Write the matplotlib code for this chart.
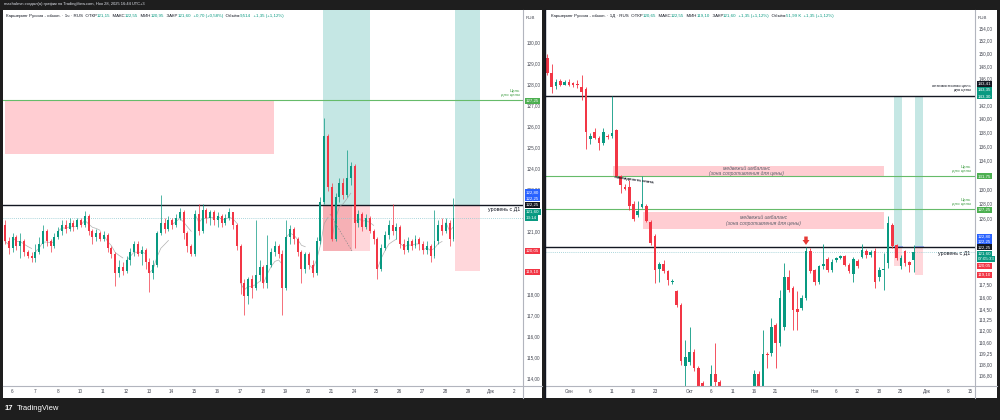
import numpy as np
import matplotlib
matplotlib.use("Agg")
import matplotlib.pyplot as plt
from matplotlib.patches import Rectangle
import matplotlib.transforms as mtransforms

plt.rcParams['font.family'] = ['Liberation Sans', 'DejaVu Sans']

UP, DN = '#089981', '#f23645'
GREEN_LINE = '#66bb6a'
TEAL_BAND = '#b2dfdb'
PINK = '#ffcdd2'

# ---------------- left chart: 1h candles ----------------
h1_open = [121.3, 120.5, 120.2, 120.7, 120.3, 120.5, 120.0, 119.8, 119.7, 120.0,
           120.4, 121.0, 120.5, 120.3, 120.7, 121.0, 121.3, 121.1, 121.4, 121.2,
           121.5, 121.3, 121.7, 121.0, 120.7, 120.9, 120.6, 120.8, 120.2, 119.9,
           119.0, 119.3, 119.1, 119.6, 120.0, 120.4, 119.9, 120.1, 119.5, 119.0,
           119.4, 120.9, 121.4, 121.1, 121.5, 121.3, 121.6, 121.9, 120.9, 120.3,
           119.9, 121.8, 121.0, 122.0, 121.6, 121.9, 121.5, 121.7, 121.4, 121.6,
           121.9, 121.3, 120.3, 118.5, 117.9, 118.7, 118.3, 118.9, 119.3, 118.5,
           119.4, 120.0, 120.3, 119.9, 118.3, 120.7, 121.1, 120.6, 120.0, 119.2,
           119.9, 119.4, 119.0, 120.5, 122.4, 125.5, 123.1, 120.6, 122.6, 123.3,
           122.7, 123.5, 124.1, 121.4, 121.8, 121.2, 121.6, 121.0, 120.6, 119.2,
           120.2, 120.8, 121.3, 121.0, 121.2, 120.4, 120.1, 120.5, 120.3, 120.6,
           120.4, 120.1, 120.3, 119.8, 120.5, 121.3, 121.0, 121.4, 120.6]
h1_high = [121.5, 120.7, 120.9, 120.8, 120.9, 120.6, 120.1, 120.0, 120.4, 120.7,
           121.3, 121.1, 120.6, 120.9, 121.2, 121.5, 121.5, 121.6, 121.5, 121.6,
           121.6, 121.95, 121.8, 121.1, 121.1, 121.0, 121.0, 120.9, 120.3, 120.0,
           119.6, 119.5, 119.8, 120.2, 120.5, 120.5, 120.3, 120.2, 119.7, 119.6,
           121.0, 122.7, 121.6, 121.7, 121.6, 121.8, 122.1, 122.0, 121.0, 120.4,
           122.0, 122.3, 122.3, 122.1, 122.0, 122.0, 121.9, 121.8, 121.8, 122.1,
           121.9, 121.4, 120.4, 118.7, 118.8, 118.9, 121.5, 119.6, 119.4, 120.8,
           120.2, 120.5, 120.4, 120.1, 121.5, 121.3, 121.2, 120.7, 120.1, 120.0,
           120.0, 119.6, 120.7, 122.6, 126.4, 125.6, 123.3, 122.8, 123.5, 123.5,
           124.85, 124.3, 124.2, 122.0, 121.9, 121.8, 121.7, 121.1, 120.7, 120.4,
           121.0, 121.5, 122.3, 121.4, 121.3, 120.6, 120.7, 120.6, 120.8, 120.7,
           120.5, 120.5, 120.4, 122.0, 121.5, 121.6, 121.6, 121.5, 122.55]
h1_low = [120.4, 119.9, 120.0, 120.1, 119.7, 119.8, 119.7, 119.5, 119.5, 119.9,
          120.2, 120.3, 120.0, 120.2, 120.6, 120.8, 120.9, 121.0, 121.0, 121.1,
          121.2, 121.2, 120.8, 120.4, 120.5, 120.5, 120.5, 120.0, 119.7, 118.4,
          118.8, 118.9, 119.0, 119.4, 119.8, 119.8, 119.4, 119.2, 118.1, 118.7,
          119.3, 120.8, 120.9, 121.0, 121.1, 121.2, 121.5, 120.6, 120.0, 119.8,
          119.8, 120.8, 120.9, 121.4, 121.3, 121.3, 121.2, 121.2, 121.3, 121.5,
          121.1, 120.1, 118.0, 117.0, 117.5, 117.8, 118.2, 118.6, 118.3, 118.3,
          119.3, 119.8, 119.7, 117.0, 118.2, 120.4, 120.4, 119.8, 118.5, 119.0,
          119.2, 118.8, 118.9, 120.4, 122.3, 122.9, 120.5, 120.5, 122.4, 122.5,
          122.6, 123.2, 120.2, 121.2, 121.0, 121.1, 120.9, 120.4, 118.7, 119.1,
          120.1, 120.6, 120.8, 120.6, 120.2, 119.9, 120.0, 120.1, 120.2, 120.1,
          119.9, 119.9, 119.5, 119.7, 120.4, 120.8, 120.9, 120.3, 120.5]
h1_close = [120.5, 120.2, 120.7, 120.3, 120.5, 120.0, 119.8, 119.7, 120.0, 120.4,
            121.0, 120.5, 120.3, 120.7, 121.0, 121.3, 121.1, 121.4, 121.2, 121.5,
            121.3, 121.7, 121.0, 120.7, 120.9, 120.6, 120.8, 120.2, 119.9, 119.0,
            119.3, 119.1, 119.6, 120.0, 120.4, 119.9, 120.1, 119.5, 119.0, 119.4,
            120.9, 121.4, 121.1, 121.5, 121.3, 121.6, 121.9, 120.9, 120.3, 119.9,
            121.8, 121.0, 122.0, 121.6, 121.9, 121.5, 121.7, 121.4, 121.6, 121.9,
            121.3, 120.3, 118.5, 117.9, 118.7, 118.3, 118.9, 119.3, 118.5, 119.4,
            120.0, 120.3, 119.9, 118.3, 120.7, 121.1, 120.6, 120.0, 119.2, 119.9,
            119.4, 119.0, 120.5, 122.4, 125.5, 123.1, 120.6, 122.6, 123.3, 122.7,
            123.5, 124.1, 121.4, 121.8, 121.2, 121.6, 121.0, 120.6, 119.2, 120.2,
            120.8, 121.3, 121.0, 121.2, 120.4, 120.1, 120.5, 120.3, 120.6, 120.4,
            120.1, 120.3, 119.8, 120.5, 121.3, 121.0, 121.4, 120.6, 121.6]
h1_day_labels = ["6", "7", "8", "10", "11", "12", "13", "14", "15", "16", "17", "18",
                 "19", "20", "21", "24", "25", "26", "27", "28", "29", "Дек", "2"]
h1_candles_per_day = 6
h1_first_day_at = 1.84
h1_price_ticks = [130, 129, 128, 127, 126, 125, 124, 123, 121, 118, 117, 116, 115, 114]

# ---------------- right chart: 1D candles ----------------
d1_open = [149.3, 146.9, 144.9, 145.6, 145.1, 145.5, 145.3, 145.2, 144.8, 144.5,
           137.0, 138.0, 137.2, 136.4, 137.5, 137.4, 138.3, 131.8, 130.3, 130.3,
           128.0, 126.5, 127.6, 127.7, 125.6, 123.7, 119.5, 120.1, 119.2, 117.8,
           116.7, 115.0, 107.9, 108.35, 109.5, 107.6, 105.9, 105.0, 105.0, 107.0,
           106.0, 105.0, 104.2, 103.8, 104.4, 103.9, 104.6, 104.2, 104.8, 107.0,
           105.5, 109.2, 109.3, 112.6, 110.5, 112.4, 118.5, 117.1, 114.5, 114.7,
           115.9, 121.7, 119.3, 117.9, 119.8, 120.75, 119.4, 120.6, 120.9, 121.1,
           120.0, 118.8, 120.5, 121.0, 121.7, 121.25, 121.7, 118.5, 119.4, 120.2,
           125.2, 122.5, 119.8, 121.7, 120.3, 120.65]
d1_high = [149.8, 148.3, 146.0, 146.0, 145.8, 146.0, 145.5, 145.8, 146.6, 144.7,
           137.9, 138.6, 137.5, 138.6, 137.8, 143.4, 138.5, 131.9, 130.6, 131.2,
           128.3, 128.4, 131.8, 128.0, 125.8, 124.0, 120.3, 120.6, 119.3, 118.2,
           116.9, 115.2, 110.9, 112.4, 109.8, 107.9, 106.2, 105.4, 108.0, 110.5,
           106.3, 105.5, 104.8, 105.2, 104.9, 105.3, 105.0, 105.4, 107.4, 107.3,
           112.0, 109.4, 113.4, 112.9, 116.8, 120.2, 119.3, 117.3, 116.7, 116.2,
           122.3, 122.2, 119.5, 120.0, 122.6, 121.0, 120.7, 121.0, 121.3, 121.3,
           120.2, 121.0, 120.7, 122.6, 122.0, 121.9, 122.2, 119.7, 121.5, 126.3,
           125.4, 122.7, 121.3, 121.9, 120.5, 122.55]
d1_low = [146.6, 143.85, 144.5, 144.9, 145.0, 144.9, 144.8, 144.6, 142.8, 135.6,
          136.3, 137.0, 135.5, 136.2, 137.0, 137.2, 131.6, 129.5, 129.8, 127.15,
          125.7, 126.2, 127.4, 125.5, 122.5, 117.7, 117.9, 119.0, 117.5, 117.6,
          114.8, 108.0, 105.3, 108.0, 107.3, 104.8, 104.5, 104.0, 104.6, 105.2,
          104.3, 103.6, 103.2, 103.4, 103.5, 103.7, 103.8, 103.9, 104.5, 105.0,
          105.2, 107.6, 109.0, 107.6, 110.2, 112.0, 116.6, 112.0, 112.0, 114.4,
          115.6, 118.9, 117.5, 117.6, 119.5, 119.1, 119.1, 120.3, 120.7, 119.8,
          118.9, 117.9, 119.6, 120.8, 120.9, 121.0, 117.1, 118.0, 116.8, 119.6,
          122.2, 120.6, 119.5, 119.9, 119.1, 119.1]
d1_close = [146.9, 144.8, 145.5, 145.1, 145.5, 145.1, 145.0, 145.0, 144.0, 138.1,
            137.4, 137.2, 136.4, 138.1, 137.3, 137.9, 131.8, 130.5, 130.0, 127.7,
            125.95, 127.0, 127.9, 125.7, 122.8, 119.4, 120.1, 119.2, 118.1, 118.0,
            115.0, 108.4, 108.9, 109.5, 107.6, 105.2, 105.0, 104.6, 107.0, 106.0,
            105.0, 104.2, 103.8, 104.4, 103.9, 104.6, 104.2, 104.8, 107.0, 105.5,
            109.2, 109.1, 112.4, 110.5, 115.9, 118.5, 116.9, 114.4, 114.2, 115.9,
            121.7, 119.2, 117.9, 119.8, 120.1, 119.4, 120.4, 120.8, 121.1, 120.0,
            119.2, 120.7, 119.9, 121.9, 121.2, 121.6, 117.9, 119.4, 119.5, 125.4,
            122.45, 120.9, 120.85, 120.2, 120.0, 121.6]
d1_tick_pos = [5, 10, 15, 20, 25, 33, 38, 43, 48, 53, 62, 67, 72, 77, 82, 88, 93, 98]
d1_tick_labels = ["Сен", "6", "11", "16", "23", "Окт", "6", "11", "16", "21",
                  "Ноя", "6", "12", "18", "25", "Дек", "8", "15"]
d1_price_ticks = [154, 152, 150, 148, 146, 142, 140, 138, 136, 134, 130, 128, 126,
                  117.5, 116, 114.5, 113.25, 112, 110.6, 109.25, 108, 106.8]

# ---------------- levels & zones ----------------
target_level = 127.25
d1_level = 122.25
last_price = 121.60
optimistic_target = 143.41
target_1 = 131.75
target_2 = 127.25
signal_candle = 60

h1_supply_zone = (0.0, 70.8, 124.65, 127.25)        # x0, x1, low, high
h1_band_1 = (83.7, 96.1, 91.3, 120.05)              # x0, x1, split, stop
h1_band_2 = (118.4, 125.0, 119.10)
d1_imbalance_1 = (15.2, 78.1, 131.8, 133.2)
d1_imbalance_2 = (22.1, 78.1, 124.6, 126.9)
d1_band_1 = (80.3, 82.2, 119.8)
d1_band_2 = (85.2, 87.2, 118.7)

W, H = 1000, 420
fig = plt.figure(figsize=(10, 4.2), dpi=100, facecolor='#1e1e1e')


def fx(px):
    return px / W


def fy(py):
    return 1 - py / H


# white panels
for x0, x1 in [(3, 542), (546, 997)]:
    fig.add_artist(Rectangle((fx(x0), fy(398)), fx(x1 - x0), (398 - 10) / H,
                             transform=fig.transFigure, fc='white', ec='none', zorder=0))
# separators (date axis / price axis)
for x0, x1, xa in [(3, 542, 523), (546, 997, 975)]:
    fig.add_artist(plt.Line2D([fx(x0), fx(x1)], [fy(386), fy(386)], transform=fig.transFigure,
                              color='#b2b5be', lw=0.8, zorder=5))
    fig.add_artist(plt.Line2D([fx(xa), fx(xa)], [fy(10), fy(398)], transform=fig.transFigure,
                              color='#b2b5be', lw=0.8, zorder=5))
fig.add_artist(plt.Line2D([fx(545), fx(545)], [fy(10), fy(398)], transform=fig.transFigure,
                          color='#131722', lw=1.0, zorder=5))

axL = fig.add_axes([fx(3), fy(386), fx(520), 376 / H])
axR = fig.add_axes([fx(546), fy(386), fx(429), 376 / H])


def draw_candles(ax, o, h, l, c, width, lw, min_h):
    o, h, l, c = map(np.asarray, (o, h, l, c))
    x = np.arange(len(o))
    col = np.where(c >= o, UP, DN)
    ax.vlines(x, l, h, colors=col, lw=lw, zorder=4)
    ax.bar(x, np.maximum(np.abs(c - o), min_h), width=width, bottom=np.minimum(o, c),
           color=col, linewidth=0, zorder=5)


def style_axis(ax):
    for s in ax.spines.values():
        s.set_visible(False)
    ax.set_facecolor('white')
    ax.yaxis.tick_right()
    ax.tick_params(axis='y', length=0, pad=3, labelsize=3.3, labelcolor='#434651')
    ax.tick_params(axis='x', length=0, pad=2.5, labelsize=3.3, labelcolor='#434651')
    ax.minorticks_off()


def fmt(v):
    return f"{v:.2f}".replace('.', ',')


def price_label(ax, price, text, bg, dy=0.0):
    tr = mtransforms.blended_transform_factory(ax.transAxes, ax.transData)
    tr = mtransforms.offset_copy(tr, fig=fig, x=0, y=dy, units='dots')
    ax.text(1.006, price, text, transform=tr, ha='left', va='center', fontsize=3.2,
            color='white', clip_on=False, zorder=10,
            bbox=dict(boxstyle='square,pad=0.2', fc=bg, ec='none'))


# ======================= LEFT CHART =======================
ax = axL
style_axis(ax)
n1 = len(h1_close)
ax.set_xlim(-0.53, 136.3)
ax.set_ylim(113.62, 131.52)
top = 131.52

x0, x1, lo, hi = h1_supply_zone
ax.add_patch(Rectangle((x0, lo), x1 - x0, hi - lo, fc=PINK, ec='none', zorder=1))
bx0, bx1, bsplit, bstop = h1_band_1
ax.add_patch(Rectangle((bx0, d1_level), bx1 - bx0, top - d1_level, fc=TEAL_BAND, alpha=0.75, ec='none', zorder=1))
ax.add_patch(Rectangle((bx0, bstop), bsplit - bx0, d1_level - bstop, fc='#f5a3a8', alpha=0.85, ec='none', zorder=1))
ax.add_patch(Rectangle((bsplit, bstop), bx1 - bsplit, d1_level - bstop, fc=PINK, alpha=0.8, ec='none', zorder=1))
ax.plot([bx0 + 1.8, bsplit], [121.8, bstop], color='#8a8a8a', lw=0.5, ls=(0, (2, 2)), zorder=6)
cx0, cx1, cstop = h1_band_2
ax.add_patch(Rectangle((cx0, d1_level), cx1 - cx0, top - d1_level, fc=TEAL_BAND, alpha=0.75, ec='none', zorder=1))
ax.add_patch(Rectangle((cx0, cstop), cx1 - cx0, d1_level - cstop, fc=PINK, alpha=0.8, ec='none', zorder=1))

ax.axhline(target_level, color=GREEN_LINE, lw=0.8, zorder=2)
ax.axhline(d1_level, color='#131722', lw=1.0, zorder=2)
ax.axhline(last_price, color='#8fc9d0', lw=0.6, ls=(0, (1, 1.5)), zorder=2)

# intraday average line
closes = np.asarray(h1_close)
day_starts = np.ceil(h1_first_day_at + h1_candles_per_day * np.arange(-1, len(h1_day_labels))).astype(int)
for a, b in zip(day_starts[:-1], day_starts[1:]):
    a, b = max(a, 0), min(b, n1)
    if b - a >= 2:
        seg = closes[a:b]
        avg = np.cumsum(seg) / np.arange(1, len(seg) + 1)
        ax.plot(np.arange(a, b), avg, color='#9e9e9e', lw=0.5, alpha=0.8, zorder=3)

draw_candles(ax, h1_open, h1_high, h1_low, h1_close, width=0.5, lw=0.5, min_h=0.04)

ax.set_yticks(h1_price_ticks)
ax.set_yticklabels([fmt(v) for v in h1_price_ticks])
day_pos = [h1_first_day_at + h1_candles_per_day * j for j in range(len(h1_day_labels))]
ax.set_xticks(day_pos)
ax.set_xticklabels(h1_day_labels)

blendL = mtransforms.blended_transform_factory(ax.transAxes, ax.transData)
ax.text(0.994, target_level + 0.12, "Цель\nдля цены", transform=blendL,
        ha='right', va='bottom', fontsize=3.2, color='#43a047', multialignment='right', linespacing=1.1, zorder=8)
ax.text(0.994, d1_level - 0.12, "уровень с Д1", transform=blendL,
        ha='right', va='top', fontsize=3.8, color='#131722', zorder=8)

price_label(ax, target_level, fmt(target_level), '#4caf50', dy=-1)
price_label(ax, 122.80, "122,80", '#2962ff', dy=1)
price_label(ax, d1_level, fmt(d1_level), '#2962ff', dy=6.5)
price_label(ax, d1_level, fmt(d1_level), '#131722', dy=0)
price_label(ax, last_price, fmt(last_price), UP, dy=6.5)
price_label(ax, last_price, "13:14", UP, dy=0.5)
price_label(ax, 120.05, "120,05", DN)
price_label(ax, 119.10, "119,10", DN, dy=-1)
ax.text(1.006, 0.985, "RUB", transform=ax.transAxes, fontsize=3.2, color='#434651', ha='left', va='top')

# ======================= RIGHT CHART =======================
ax = axR
style_axis(ax)
ax.set_yscale('log')
ax.set_xlim(-0.3, 99.2)
ax.set_ylim(105.6, 156.98)

for z in (d1_imbalance_1, d1_imbalance_2):
    zx0, zx1, zlo, zhi = z
    ax.add_patch(Rectangle((zx0, zlo), zx1 - zx0, zhi - zlo, fc=PINK, ec='none', zorder=1))
for bx0, bx1, bstop in (d1_band_1, d1_band_2):
    ax.add_patch(Rectangle((bx0, d1_level), bx1 - bx0, optimistic_target - d1_level, fc=TEAL_BAND, alpha=0.75, ec='none', zorder=1))
    ax.add_patch(Rectangle((bx0, bstop), bx1 - bx0, d1_level - bstop, fc=PINK, alpha=0.8, ec='none', zorder=1))
    ax.plot([bx0, bx1], [d1_level * 1.001] * 2, color='#90a4f7', lw=0.6, zorder=2)

ax.axhline(optimistic_target, color='#131722', lw=1.0, zorder=2)
ax.axhline(target_1, color=GREEN_LINE, lw=0.8, zorder=2)
ax.axhline(target_2, color=GREEN_LINE, lw=0.8, zorder=2)
ax.axhline(d1_level, color='#131722', lw=1.0, zorder=2)
ax.axhline(last_price, color='#8fc9d0', lw=0.6, ls=(0, (1, 1.5)), zorder=2)

draw_candles(ax, d1_open, d1_high, d1_low, d1_close, width=0.62, lw=0.6, min_h=0.1)

ax.annotate('', xy=(signal_candle, d1_high[signal_candle] * 1.002), xytext=(0, 6),
            textcoords='offset points',
            arrowprops=dict(arrowstyle='simple,head_width=1.0,head_length=0.7,tail_width=0.5',
                            fc='#e53935', ec='none', mutation_scale=5, shrinkA=0, shrinkB=0), zorder=9)

ax.set_yticks(d1_price_ticks)
ax.set_yticklabels([fmt(v) for v in d1_price_ticks])
ax.set_xticks(d1_tick_pos)
ax.set_xticklabels(d1_tick_labels)
ax.minorticks_off()

blend = mtransforms.blended_transform_factory(ax.transAxes, ax.transData)
ax.text(0.99, optimistic_target * 1.004, "оптимистичная цель\nдля цены", transform=blend,
        ha='right', va='bottom', fontsize=3.0, color='#131722', multialignment='right', linespacing=1.1, zorder=8)
for lvl in (target_1, target_2):
    ax.text(0.99, lvl * 1.003, "Цель\nдля цены", transform=blend, ha='right', va='bottom',
            fontsize=3.2, color='#43a047', multialignment='right', linespacing=1.1, zorder=8)
ax.text(0.99, d1_level * 0.996, "уровень с Д1", transform=blend, ha='right', va='top',
        fontsize=3.8, color='#131722', zorder=8)

imb_text = "медвежий имбаланс\n(зона сопротивления для цены)"
for zx0, zx1, zlo, zhi in (d1_imbalance_1, d1_imbalance_2):
    ax.text(zx0 + (zx1 - zx0) * 0.5 if zx0 > 20 else 46.3, np.sqrt(zlo * zhi), imb_text,
            ha='center', va='center', fontsize=3.6, style='italic', color='#5d606b',
            linespacing=1.05, zorder=8)
ax.text(d1_imbalance_1[0] + 0.3, target_1 * 1.001, "ликвидность снята", rotation=-8,
        ha='left', va='top', fontsize=3.0, color='#131722', weight='bold', zorder=8,
        rotation_mode='anchor')

price_label(ax, optimistic_target, fmt(optimistic_target), '#131722', dy=11.8)
price_label(ax, optimistic_target, "143,35", UP, dy=5.8)
price_label(ax, optimistic_target, "143,30", UP, dy=-0.3)
price_label(ax, target_1, fmt(target_1), '#4caf50')
price_label(ax, target_2, fmt(target_2), '#4caf50', dy=-0.7)
price_label(ax, 122.80, "122,80", '#2962ff', dy=6.3)
price_label(ax, d1_level, fmt(d1_level), '#2962ff', dy=5.6)
price_label(ax, d1_level, fmt(d1_level), '#131722')
price_label(ax, last_price, fmt(last_price), UP, dy=-1.7)
price_label(ax, last_price, "07:05:33", UP, dy=-6.9)
price_label(ax, 120.05, "120,05", DN, dy=-1.5)
price_label(ax, 119.10, "119,10", DN, dy=-3.1)
ax.text(1.006, 0.985, "RUB", transform=ax.transAxes, fontsize=3.2, color='#434651', ha='left', va='top')

# ======================= headers & frame texts =======================
fig.text(fx(4), fy(4.5), "maxhalevn создал(а) график на TradingView.com, Ноя 28, 2025 16:44 UTC+3",
         fontsize=2.9, color='#e0e3eb', ha='left', va='center')

renderer = fig.canvas.get_renderer()
DK = '#131722'


def chain(x_px, parts, size=3.2):
    x = fx(x_px)
    for txt, col in parts:
        t = fig.text(x, fy(17.0), txt, fontsize=size, color=col, ha='left', va='baseline', zorder=12)
        bb = t.get_window_extent(renderer)
        x = bb.x1 / fig.bbox.width


chain(6, [("Каршеринг Руссия - обыкн. · 1ч · RUS  ОТКР", DK), ("121,15", UP), ("  МАКС", DK), ("122,55", UP),
          ("  МИН", DK), ("120,95", UP), ("  ЗАКР", DK), ("121,60", UP), ("  +0,70 (+0,58%)", UP),
          ("  Объём", DK), ("9,514", UP), ("  +1,35 (+1,12%)", UP)])
chain(551, [("Каршеринг Руссия - обыкн. · 1Д · RUS  ОТКР", DK), ("120,65", UP), ("  МАКС", DK), ("122,55", UP),
            ("  МИН", DK), ("119,10", UP), ("  ЗАКР", DK), ("121,60", UP), ("  +1,35 (+1,12%)", UP),
            ("  Объём", DK), ("51,99 K", UP), ("  +1,35 (+1,12%)", UP)])

fig.text(fx(5), fy(409), "17", fontsize=5.5, color='white', weight='bold', ha='left', va='center')
fig.text(fx(17), fy(409), "TradingView", fontsize=5.5, color='white', ha='left', va='center')

fig.savefig("out.png", dpi=100, facecolor=fig.get_facecolor())
